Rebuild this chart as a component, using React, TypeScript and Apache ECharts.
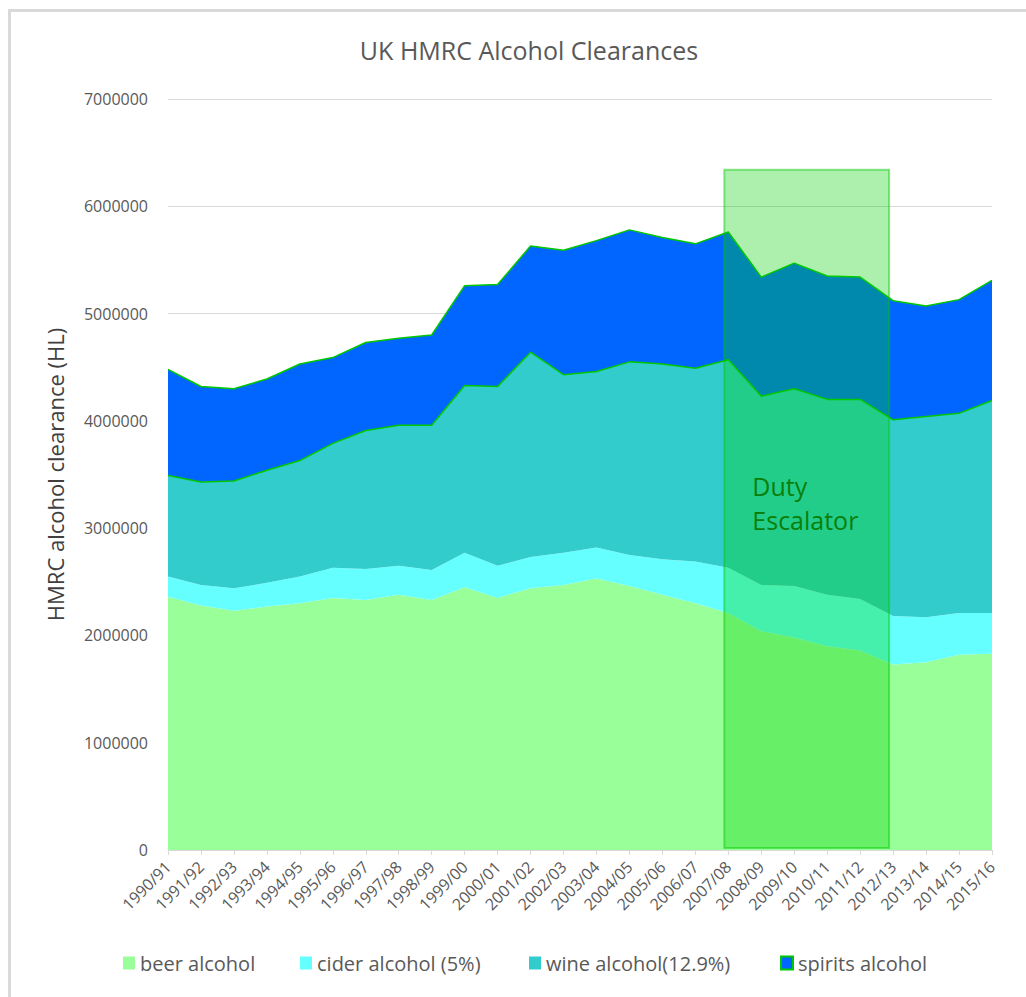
import React, { useEffect, useRef } from "react";
import * as echarts from "echarts";

const categories = [
  "1990/91", "1991/92", "1992/93", "1993/94", "1994/95", "1995/96", "1996/97",
  "1997/98", "1998/99", "1999/00", "2000/01", "2001/02", "2002/03", "2003/04",
  "2004/05", "2005/06", "2006/07", "2007/08", "2008/09", "2009/10", "2010/11",
  "2011/12", "2012/13", "2013/14", "2014/15", "2015/16",
];

const beer = [
  2360000, 2280000, 2230000, 2270000, 2300000, 2350000, 2330000, 2380000, 2330000,
  2450000, 2350000, 2440000, 2470000, 2530000, 2460000, 2380000, 2300000, 2210000,
  2040000, 1980000, 1900000, 1860000, 1730000, 1750000, 1820000, 1830000,
];
const cider = [
  190000, 190000, 210000, 220000, 250000, 280000, 290000, 270000, 280000,
  320000, 300000, 290000, 300000, 290000, 290000, 330000, 390000, 420000,
  430000, 480000, 480000, 480000, 450000, 420000, 390000, 380000,
];
const wine = [
  940000, 960000, 1000000, 1050000, 1080000, 1160000, 1290000, 1310000, 1350000,
  1560000, 1670000, 1910000, 1660000, 1640000, 1800000, 1820000, 1800000, 1940000,
  1760000, 1840000, 1820000, 1860000, 1830000, 1870000, 1860000, 1980000,
];
const spirits = [
  990000, 890000, 860000, 850000, 900000, 800000, 820000, 810000, 840000,
  930000, 950000, 990000, 1160000, 1220000, 1230000, 1180000, 1160000, 1190000,
  1110000, 1170000, 1150000, 1140000, 1110000, 1030000, 1060000, 1120000,
];

const seriesNames = ["beer alcohol", "cider alcohol (5%)", "wine alcohol(12.9%)", "spirits alcohol"];
const yTicks = { min: 0, max: 7000000, interval: 1000000 };

const escalatorStart = "2007/08";
const escalatorEnd = "2012/13";
const escalatorTop = 6340000;
const escalatorLabel = "Duty\nEscalator";

const FONT = "'Open Sans', sans-serif";
const EDGE_GREEN = "#00c800";

export default function App() {
  const ref = useRef<HTMLDivElement>(null);

  useEffect(() => {
    if (!ref.current) return;
    const chart = echarts.init(ref.current, null, { renderer: "svg" });

    const colors = ["#99ff99", "#66ffff", "#33cccc", "#0066ff"];
    const values = [beer, cider, wine, spirits];
    const legendLeft = [123, 300, 529, 780];

    const series = seriesNames.map((name, i) => {
      const edged = i >= 2;
      return {
        name,
        type: "line",
        stack: "total",
        data: values[i],
        symbol: "none",
        color: colors[i],
        itemStyle: { color: colors[i] },
        areaStyle: { color: colors[i], opacity: 1 },
        lineStyle: edged ? { color: EDGE_GREEN, width: 1.5 } : { width: 0, color: colors[i] },
        z: i === 2 ? 3 : 2,
        emphasis: { disabled: true },
      };
    });

    const legends = seriesNames.map((name, i) => ({
      data: [
        {
          name,
          itemStyle:
            i === 3
              ? { color: colors[i], borderColor: EDGE_GREEN, borderWidth: 2 }
              : { color: colors[i], borderWidth: 0 },
        },
      ],
      left: legendLeft[i],
      top: 953,
      icon: "rect",
      itemWidth: 12,
      itemHeight: 13,
      padding: 0,
      selectedMode: false,
      textStyle: { fontSize: 20, color: "#595959", fontFamily: FONT },
    }));

    chart.setOption({
      animation: false,
      backgroundColor: "#ffffff",
      title: {
        text: "UK HMRC Alcohol Clearances",
        left: 524,
        textAlign: "center",
        top: 32,
        textStyle: { fontSize: 25, fontWeight: "normal", color: "#595959", fontFamily: FONT },
      },
      legend: legends,
      grid: { left: 168, right: 34, top: 99, bottom: 147, containLabel: false },
      xAxis: {
        type: "category",
        data: categories,
        boundaryGap: false,
        axisLine: { lineStyle: { color: "#d9d9d9", width: 1 } },
        axisTick: { show: true, length: 5, lineStyle: { color: "#d9d9d9" } },
        axisLabel: {
          rotate: 45,
          fontSize: 16,
          color: "#595959",
          fontFamily: FONT,
          margin: 14,
          interval: 0,
        },
        splitLine: { show: false },
      },
      yAxis: {
        type: "value",
        min: yTicks.min,
        max: yTicks.max,
        interval: yTicks.interval,
        name: "HMRC alcohol clearance (HL)",
        nameLocation: "middle",
        nameGap: 102,
        nameTextStyle: { fontSize: 22, color: "#404040", fontFamily: FONT },
        axisLine: { show: false },
        axisTick: { show: false },
        axisLabel: {
          fontSize: 16,
          color: "#595959",
          fontFamily: FONT,
          margin: 20,
          formatter: (v: number) => String(v),
        },
        splitLine: { lineStyle: { color: "#d9d9d9", width: 1 } },
      },
      series,
    });

    const x0 = chart.convertToPixel({ xAxisIndex: 0 }, categories.indexOf(escalatorStart)) as number;
    const x1 = chart.convertToPixel({ xAxisIndex: 0 }, categories.indexOf(escalatorEnd)) as number;
    const yTop = chart.convertToPixel({ yAxisIndex: 0 }, escalatorTop) as number;
    const yBottom = chart.convertToPixel({ yAxisIndex: 0 }, 0) as number;

    chart.setOption({
      graphic: [
        {
          type: "rect",
          z: 100,
          silent: true,
          shape: { x: 9.5, y: 10.5, width: 1100, height: 1100 },
          style: { fill: "none", stroke: "#d9d9d9", lineWidth: 3 },
        },
        {
          type: "rect",
          z: 100,
          silent: true,
          shape: { x: x0 - 4, y: yTop, width: x1 - x0, height: yBottom - yTop - 2 },
          style: { fill: "rgba(0,208,0,0.32)", stroke: "rgba(0,200,0,0.45)", lineWidth: 2 },
        },
        {
          type: "text",
          z: 101,
          silent: true,
          x: x0 + 24,
          y: 469,
          style: {
            text: escalatorLabel,
            font: `25px ${FONT}`,
            lineHeight: 34,
            fill: "#0a800a",
          },
        },
      ],
    });

    return () => chart.dispose();
  }, []);

  return (
    <div
      ref={ref}
      style={{ position: "absolute", left: 0, top: 0, width: 1026, height: 997 }}
    />
  );
}
